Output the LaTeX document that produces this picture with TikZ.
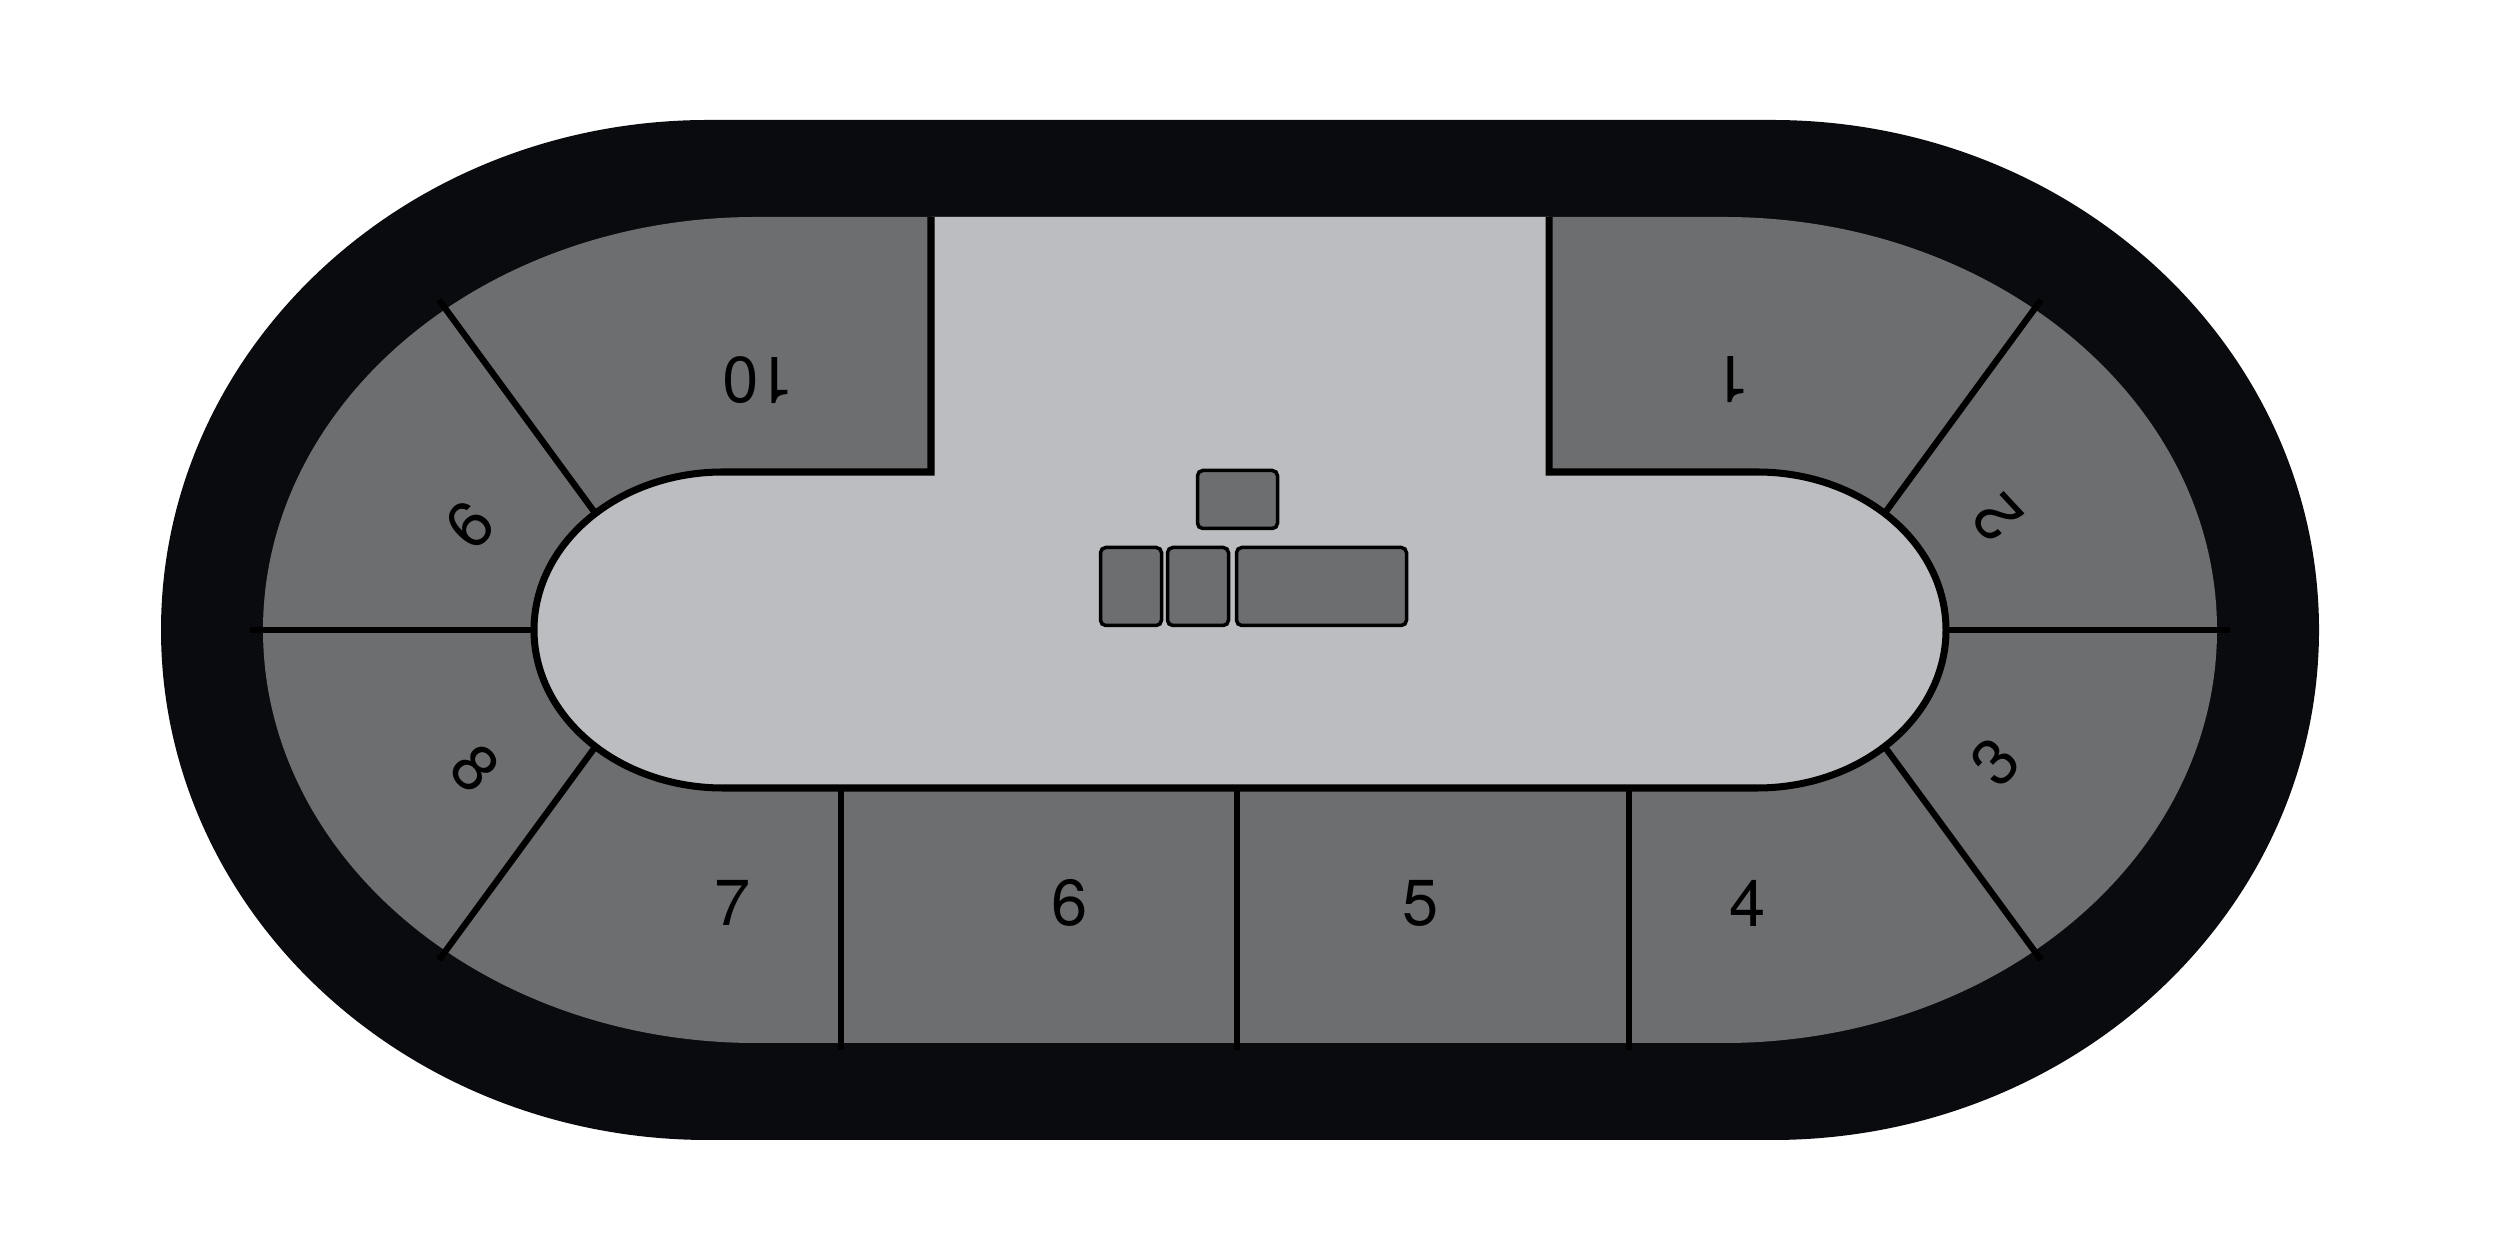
\documentclass[tikz,border=0pt]{standalone}
\usepackage{fontspec}
\setmainfont{TeX Gyre Heros}
\definecolor{ring}{HTML}{0A0B0E}
\definecolor{seat}{HTML}{6D6E70}
\definecolor{floor}{HTML}{BCBDC0}
\tikzset{
  divider/.style={line width=1.8pt, black},
  edge/.style={line width=2pt, black},
  seatno/.style={font=\fontsize{18.5}{22}\selectfont, inner sep=0pt},
  stagebox/.style={draw=black, fill=seat, line width=1pt, rounded corners=1.5pt, inner sep=0pt}
}
\begin{document}
\begin{tikzpicture}
    \def \cx {12.40}
    \def \cy {6.20}
    \useasboundingbox (0,0) rectangle (25,12.5);
    % outer black ring
    \fill[ring] (\cx-5.32,\cy+5.10) -- (\cx+5.32,\cy+5.10)
      arc[start angle=90, end angle=-90, x radius=5.47, y radius=5.10]
      -- (\cx-5.32,\cy-5.10)
      arc[start angle=270, end angle=90, x radius=5.47, y radius=5.10] -- cycle;
    % seating area
    \fill[seat] (\cx-4.84,\cy+4.13) -- (\cx+4.84,\cy+4.13)
      arc[start angle=90, end angle=-90, x radius=4.93, y radius=4.13]
      -- (\cx-4.84,\cy-4.13)
      arc[start angle=270, end angle=90, x radius=4.93, y radius=4.13] -- cycle;
    % section dividers
    \draw[divider] (2.50,\cy) -- (5.60,\cy);
    \draw[divider] (19.20,\cy) -- (22.30,\cy);
    \foreach \sx in {-1,1}
      \foreach \sy in {-1,1}
        \draw[divider] (\cx+\sx*8.01,\cy+\sy*3.30) -- (\cx+\sx*6.39,\cy+\sy*1.09);
    \foreach \x in {8.41,12.37,16.29}
      \draw[divider] (\x,2.00) -- (\x,4.70);
    % floor with the aisle
    \def \floorpath {(9.31,\cy+4.13) -- (9.31,\cy+1.58) -- (\cx-5.17,\cy+1.58)
      arc[start angle=90, end angle=270, x radius=1.89, y radius=1.58]
      -- (\cx+5.17,\cy-1.58)
      arc[start angle=-90, end angle=90, x radius=1.89, y radius=1.58]
      -- (15.49,\cy+1.58) -- (15.49,\cy+4.13)}
    \fill[floor] \floorpath -- cycle;
    \draw[edge] \floorpath;
    % stage
    \node[stagebox, minimum width=0.80cm, minimum height=0.58cm] (riser) at (12.375,7.505) {};
    \node[stagebox, minimum width=0.61cm, minimum height=0.78cm] (deskl) at (11.31,6.635) {};
    \node[stagebox, minimum width=0.61cm, minimum height=0.78cm] (deskm) at (11.98,6.635) {};
    \node[stagebox, minimum width=1.70cm, minimum height=0.78cm] (deskr) at (13.215,6.635) {};
    % section numbers
    \foreach \n/\x/\y/\r in {1/17.32/8.70/180, 2/19.97/7.32/133, 3/19.95/4.88/47,
        4/17.48/3.47/0, 5/14.21/3.47/0, 6/10.70/3.47/0, 7/7.33/3.47/0,
        8/4.75/4.82/-47, 9/4.70/7.25/-133, 10/7.58/8.70/180}
      \node[seatno, rotate=\r] (sec\n) at (\x,\y) {\n};
\end{tikzpicture}
\end{document}
